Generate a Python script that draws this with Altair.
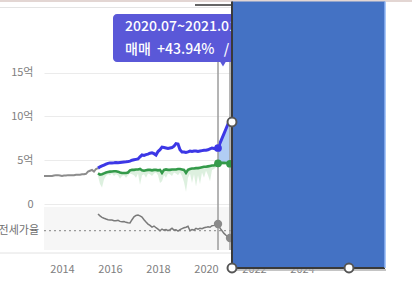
import altair as alt
import pandas as pd

FONT = "Noto Sans CJK KR"

# ---------------- data ----------------
pre_months = [str(p) for p in pd.period_range("2013-04", "2015-07", freq="M")]
pre_price = [3.20, 3.20, 3.20, 3.20, 3.20, 3.25, 3.30, 3.30, 3.25,
             3.20, 3.25, 3.25, 3.30, 3.30, 3.30, 3.30, 3.35, 3.35, 3.35, 3.40, 3.40,
             3.45, 3.70, 3.80, 3.90, 3.70, 4.00, 4.10]

months = [str(p) for p in pd.period_range("2015-07", "2021-01", freq="M")]
sale = [4.10, 4.25, 4.35, 4.45, 4.55, 4.65,
        4.70, 4.70, 4.72, 4.75, 4.72, 4.75, 4.78, 4.80, 4.82, 4.85, 4.90, 5.00,
        5.05, 5.10, 5.15, 5.40, 5.60, 5.55, 5.65, 5.70, 5.80, 5.85, 5.75, 5.60,
        6.00, 6.20, 6.50, 6.45, 6.40, 6.35, 6.40, 6.45, 6.60, 6.90, 6.85, 6.20,
        5.95, 5.95, 5.90, 5.95, 6.05, 6.00, 6.05, 6.05, 6.00, 6.05, 6.10, 6.15,
        6.15, 6.20, 6.30, 6.40, 6.35, 6.30, 6.40, 6.95, 7.50, 8.05, 8.60, 9.15,
        9.21]
jeonse = [3.50, 3.35, 3.40, 3.50, 3.60, 3.65,
          3.70, 3.72, 3.75, 3.75, 3.70, 3.60, 3.55, 3.55, 3.55, 3.60, 3.85, 3.90,
          3.90, 3.95, 3.95, 4.00, 3.85, 3.80, 3.85, 3.90, 3.90, 3.85, 3.90, 3.90,
          3.85, 3.90, 3.55, 3.90, 3.95, 3.90, 3.90, 3.95, 3.95, 3.95, 4.00, 4.00,
          3.95, 3.90, 3.55, 3.90, 4.00, 4.05, 4.05, 4.10, 4.10, 4.15, 4.20, 4.25,
          4.25, 4.30, 4.35, 4.40, 4.40, 4.50, 4.65, 4.65, 4.70, 4.70, 4.68, 4.66,
          4.60]
jeonse_low = [3.2, 2.3, 1.9, 2.8, 3.2, 3.4,
              3.3, 3.5, 3.2, 3.4, 3.3, 2.9, 3.2, 3.3, 3.0, 3.3, 3.5, 3.4,
              3.3, 3.0, 3.5, 2.2, 3.3, 3.4, 3.0, 3.5, 3.4, 3.2, 3.5, 3.6,
              3.3, 2.4, 2.6, 3.3, 3.0, 3.5, 3.4, 3.2, 3.6, 3.5, 3.3, 3.6,
              3.2, 2.5, 1.4, 3.0, 3.5, 2.4, 3.4, 2.0, 3.3, 2.3, 3.6, 3.0,
              3.8, 3.3, 2.6, 3.9, 4.0, 4.2, 4.4, 4.4, 4.5, 4.5, 4.5, 4.5,
              4.5]
ratio = [85.0, 83.0, 81.5, 80.5, 79.7, 79.0,
         78.8, 78.6, 78.0, 77.9, 78.3, 77.2, 76.8, 77.0, 76.2, 75.8, 75.5, 79.0,
         82.0, 83.5, 83.9, 83.0, 81.8, 79.0, 76.5, 74.4, 73.0, 71.2, 72.3, 70.5,
         69.0, 67.3, 69.1, 68.0, 68.6, 67.3, 68.5, 69.9, 68.0, 68.4, 67.0, 68.5,
         69.5, 70.5, 71.0, 72.0, 67.3, 68.5, 68.0, 69.9, 69.0, 70.0, 69.5, 70.5,
         70.9, 71.5, 71.0, 72.6, 73.0, 73.5, 74.4, 70.0, 67.3, 64.5, 62.5, 60.6,
         59.6]
ratio_ref = [67.5]
range_start, range_end = "2020-07", "2021-01"
x_ticks = [2014, 2016, 2018, 2020, 2022, 2024]
y_ticks = [0, 5, 10, 15]
tip_line1 = "2020.07~2021.01"
tip_line2 = "매매\u00a0\u00a0+43.94%\u00a0\u00a0\u00a0/"
ratio_label = "전세가율"


def to_t(m):
    y, mo = m.split("-")
    return int(y) + (int(mo) - 1) / 12


pre_df = pd.DataFrame({"t": [to_t(m) for m in pre_months], "price": pre_price})
df = pd.DataFrame({"t": [to_t(m) for m in months], "month": months, "sale": sale,
                   "jeonse": jeonse, "low": jeonse_low, "ratio": ratio})
t0, t1 = to_t(range_start), to_t(range_end)
hl = df[(df.t >= t0) & (df.t <= t1)]
ends = df[df.month.isin([range_start, range_end])]
one = pd.DataFrame({"k": [0]})

# ---------------- layout ----------------
W, H = 341, 250
xscale = alt.Scale(domain=[2013.25, 2027.458], nice=False, zero=False)
yscale = alt.Scale(domain=[-46 / 8.75, 204 / 8.75], nice=False, zero=False)
rscale = alt.Scale(domain=[50, 90], range=[247.1, 209.3], nice=False, zero=False)

xaxis = alt.Axis(values=x_ticks, format="d", grid=False, domain=False, ticks=False,
                 tickSize=0, labelPadding=13, labelFontSize=11, labelColor="#808080",
                 labelFont=FONT, title=None)
yaxis = alt.Axis(values=y_ticks, labelExpr="datum.value == 0 ? '0' : datum.value + '억'",
                 grid=True, gridColor="#ebebeb", gridWidth=1, domain=False, ticks=False,
                 tickSize=0, labelPadding=11, labelFontSize=11, labelColor="#808080",
                 labelFont=FONT, title=None)

X = alt.X("t:Q", scale=xscale, axis=xaxis)

band = alt.Chart(one).mark_rect(color="#f6f6f6").encode(
    x=alt.value(0), x2=alt.value(W), y=alt.value(207), y2=alt.value(250))
sep = alt.Chart(one).mark_rule(color="#e2e2e2", strokeWidth=1).encode(
    x=alt.value(-44), x2=alt.value(W), y=alt.value(253))

green_band = alt.Chart(df).mark_area(color="#d9eedc", opacity=0.9).encode(
    x=X, y=alt.Y("low:Q", scale=yscale, axis=yaxis), y2="jeonse:Q")
hl_area = alt.Chart(hl).mark_area(color="#a9c8f3", opacity=0.9).encode(
    x=alt.X("t:Q", scale=xscale), y=alt.Y("jeonse:Q", scale=yscale, axis=None), y2="sale:Q")

ref_rule = alt.Chart(pd.DataFrame({"r": ratio_ref})).mark_rule(
    color="#9a9a9a", strokeDash=[2, 3], strokeWidth=1.2).encode(
    x=alt.value(0), x2=alt.value(W), y=alt.Y("r:Q", scale=rscale, axis=None))
ref_text = alt.Chart(pd.DataFrame({"r": ratio_ref, "s": [ratio_label]})).mark_text(
    align="right", baseline="middle", font=FONT, fontSize=11, color="#707070").encode(
    x=alt.value(-5), y=alt.Y("r:Q", scale=rscale, axis=None), text="s:N")

pre_line = alt.Chart(pre_df).mark_line(color="#8c8c8c", strokeWidth=2).encode(
    x=alt.X("t:Q", scale=xscale), y=alt.Y("price:Q", scale=yscale, axis=None))
green_line = alt.Chart(df).mark_line(color="#349a4a", strokeWidth=2.6).encode(
    x=alt.X("t:Q", scale=xscale), y=alt.Y("jeonse:Q", scale=yscale, axis=None))
blue_line = alt.Chart(df).mark_line(color="#3c37e6", strokeWidth=3).encode(
    x=alt.X("t:Q", scale=xscale), y=alt.Y("sale:Q", scale=yscale, axis=None))
ratio_line = alt.Chart(df).mark_line(color="#7a7a7a", strokeWidth=1.5).encode(
    x=alt.X("t:Q", scale=xscale), y=alt.Y("ratio:Q", scale=rscale, axis=None))

vrules = alt.Chart(ends).mark_rule(color="#9c9c9c", strokeWidth=1.5).encode(
    x=alt.X("t:Q", scale=xscale), y=alt.value(62), y2=alt.value(250))

blue_dot = alt.Chart(ends[ends.month == range_start]).mark_circle(
    color="#3c37e6", size=60, opacity=1).encode(
    x=alt.X("t:Q", scale=xscale), y=alt.Y("sale:Q", scale=yscale, axis=None))
green_dot = alt.Chart(ends).mark_circle(color="#349a4a", size=60, opacity=1).encode(
    x=alt.X("t:Q", scale=xscale), y=alt.Y("jeonse:Q", scale=yscale, axis=None))
ratio_dot = alt.Chart(ends).mark_circle(color="#8a8a8a", size=70, opacity=1).encode(
    x=alt.X("t:Q", scale=xscale), y=alt.Y("ratio:Q", scale=rscale, axis=None))

TIP = "#5a58d8"
tip_box = alt.Chart(one).mark_rect(color=TIP, cornerRadius=4).encode(
    x=alt.value(69), x2=alt.value(200), y=alt.value(14), y2=alt.value(62))
tip_ptr = alt.Chart(one).mark_point(shape="triangle-down", filled=True, color=TIP,
                                    size=70, opacity=1).encode(
    x=alt.value(179), y=alt.value(63))
tip_t1 = alt.Chart(one).mark_text(align="left", baseline="middle", font=FONT,
                                  fontSize=14, fontWeight=500, color="white").encode(
    x=alt.value(81), y=alt.value(27), text=alt.value(tip_line1))
tip_t2 = alt.Chart(one).mark_text(align="left", baseline="middle", font=FONT,
                                  fontSize=14, fontWeight=500, color="white").encode(
    x=alt.value(81), y=alt.value(50), text=alt.value(tip_line2))

top_band = alt.Chart(one).mark_rect(color="#e3d6d3").encode(
    x=alt.value(-44), x2=alt.value(368), y=alt.value(0), y2=alt.value(2))
top_grey = alt.Chart(one).mark_rule(color="#e4e4e4", strokeWidth=1).encode(
    x=alt.value(-44), x2=alt.value(188), y=alt.value(7.5))
top_dark = alt.Chart(one).mark_rule(color="#333333", strokeWidth=1.5).encode(
    x=alt.value(151), x2=alt.value(188), y=alt.value(5))

blue_rect = alt.Chart(one).mark_rect(color="#4472c4").encode(
    x=alt.value(188), x2=alt.value(341), y=alt.value(1.5), y2=alt.value(268))
rect_shadow = alt.Chart(one).mark_rule(color="#b0b0b0", strokeWidth=1.5).encode(
    x=alt.value(188), x2=alt.value(342), y=alt.value(270))
rect_left = alt.Chart(one).mark_rule(color="#3a3a3a", strokeWidth=2).encode(
    x=alt.value(188), y=alt.value(1.5), y2=alt.value(268))
rect_bottom = alt.Chart(one).mark_rule(color="#3a3a3a", strokeWidth=2).encode(
    x=alt.value(188), x2=alt.value(341), y=alt.value(268))
rect_right = alt.Chart(one).mark_rule(color="#8fb6f4", strokeWidth=1.5).encode(
    x=alt.value(341), y=alt.value(1.5), y2=alt.value(268))
handles = alt.Chart(pd.DataFrame({"hx": [188, 188, 305], "hy": [122, 268, 268]})).mark_point(
    shape="circle", filled=True, fill="white", stroke="#555555", strokeWidth=2,
    size=80, opacity=1).encode(
    x=alt.X("hx:Q", scale=None), y=alt.Y("hy:Q", scale=None))

chart = alt.layer(
    green_band, band, sep, hl_area, ref_rule, ref_text,
    pre_line, green_line, blue_line, ratio_line, vrules,
    blue_dot, green_dot, ratio_dot,
    tip_box, tip_ptr, tip_t1, tip_t2,
    top_band, top_grey, top_dark,
    blue_rect, rect_shadow, rect_left, rect_bottom, rect_right, handles,
).resolve_scale(y="independent").properties(
    width=W, height=H,
    autosize=alt.AutoSizeParams(type="none"),
    padding={"left": 44, "top": 0, "right": 27, "bottom": 34},
).configure_view(stroke=None)

chart.save("out.html", embed_options={"renderer": "svg", "actions": False})
